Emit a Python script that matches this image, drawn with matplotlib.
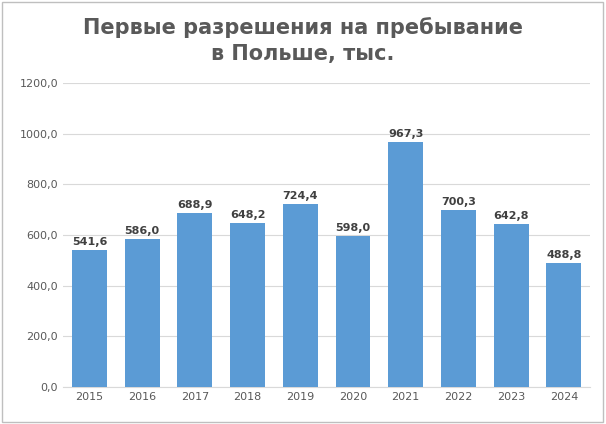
import matplotlib.pyplot as plt
import numpy as np

years = ['2015', '2016', '2017', '2018', '2019', '2020', '2021', '2022', '2023', '2024']
permits = [541.6, 586.0, 688.9, 648.2, 724.4, 598.0, 967.3, 700.3, 642.8, 488.8]
y_ticks = [0, 200, 400, 600, 800, 1000, 1200]


def fmt(v):
    return f'{v:.1f}'.replace('.', ',')


fig = plt.figure(figsize=(6.06, 4.24), dpi=100)
ax = fig.add_axes([0.104, 0.087, 0.87, 0.717])

x = np.arange(len(years))
ax.bar(x, permits, width=0.66, color='#5B9BD5', zorder=3)

# value labels above bars
for xi, v in zip(x, permits):
    ax.text(xi, v + 12, fmt(v), ha='center', va='bottom',
            fontsize=8, fontweight='bold', color='#404040')

ax.set_ylim(0, 1200)
ax.set_xlim(-0.5, len(years) - 0.5)
ax.set_yticks(y_ticks)
ax.set_yticklabels([fmt(t) for t in y_ticks])
ax.set_xticks(x)
ax.set_xticklabels(years)
ax.tick_params(axis='both', length=0, labelsize=8, colors='#595959')
ax.grid(axis='y', color='#D9D9D9', linewidth=0.8, zorder=0)

for side in ['top', 'right', 'left']:
    ax.spines[side].set_visible(False)
ax.spines['bottom'].set_color('#D9D9D9')

fig.text(0.5, 0.905, 'Первые разрешения на пребывание\nв Польше, тыс.',
         ha='center', va='center', fontsize=15, fontweight='bold',
         color='#595959', linespacing=1.4)

fig.patches.append(plt.Rectangle((0.003, 0.005), 0.992, 0.99, transform=fig.transFigure,
                                 fill=False, edgecolor='#BFBFBF', linewidth=1))

fig.savefig('out.png', dpi=100)
